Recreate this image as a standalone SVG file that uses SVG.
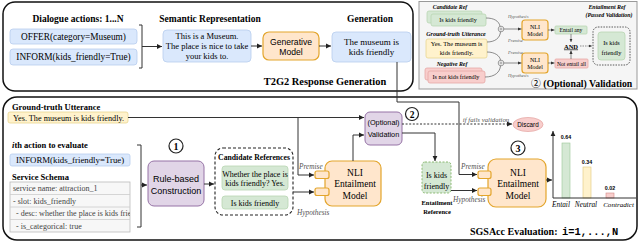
<svg xmlns="http://www.w3.org/2000/svg" width="640" height="243" viewBox="0 0 640 243">
<defs>
<marker id="ah" markerWidth="6" markerHeight="6" refX="5" refY="3" orient="auto" markerUnits="userSpaceOnUse"><path d="M0,0.6 L5,3 L0,5.4 Z" fill="#222"/></marker>
<marker id="ahs" markerWidth="4" markerHeight="4" refX="3.5" refY="2" orient="auto" markerUnits="userSpaceOnUse"><path d="M0,0.4 L3.5,2 L0,3.6 Z" fill="#333"/></marker>
<clipPath id="tbl"><rect x="10" y="182" width="120" height="50"/></clipPath>
</defs>
<style>
.serif{font-family:"Liberation Serif","Times New Roman",serif}
.sans{font-family:"Liberation Sans",Arial,sans-serif}
.mono{font-family:"Liberation Mono","Courier New",monospace}
.b{font-weight:bold}
.it{font-style:italic}
.mid{text-anchor:middle}
.blue{fill:#dae8fc;stroke:#b7cdee;stroke-width:0.8}
.orange{fill:#ffe6cc;stroke:#e3a52c;stroke-width:1.2}
.green{fill:#d5e8d4;stroke:#b9d6b3;stroke-width:0.8}
.yellow{fill:#fff2cc;stroke:#e8d58f;stroke-width:0.8}
.red{fill:#f8cecc;stroke:#e6a8a6;stroke-width:0.8}
.purple{fill:#e1d5e7;stroke:#9673a6;stroke-width:1}
.conn{fill:none;stroke:#333;stroke-width:1}
.thin{fill:none;stroke:#444;stroke-width:0.6}
.panel{fill:none;stroke:#111;stroke-width:1.5}
.lbl{fill:#555}
.num{fill:#fff;stroke:#222;stroke-width:1.2}
</style>

<!-- Panels -->
<g id="t2g2-panel">
<rect class="panel" x="3" y="2" width="410" height="89" rx="12"/>
<text class="serif b mid" x="325" y="85" font-size="10.4">T2G2 Response Generation</text>
</g>
<g id="validation-panel">
<rect x="419" y="1.5" width="218" height="87.5" fill="#f5f5f5" stroke="#999" stroke-width="1"/>
<text class="serif b" x="531" y="87" font-size="9.8"><tspan font-family="'Noto Sans CJK SC',sans-serif" font-weight="normal">②</tspan> (Optional) Validation</text>
</g>
<g id="sgsacc-panel">
<rect class="panel" x="3" y="97" width="634" height="143" rx="14"/>
<text class="serif b" x="470" y="235" font-size="10">SGSAcc Evaluation: </text>
<text class="mono b" x="562" y="235" font-size="10.4">i=1,...,N</text>
</g>

<!-- T2G2 nodes -->
<g id="dialogue-actions">
<text class="serif b mid" x="78" y="22.3" font-size="9.5">Dialogue actions: 1...N</text>
<rect class="blue" x="10" y="29" width="127" height="15" rx="3"/>
<text class="serif mid" x="73.5" y="39.8" font-size="9.3">OFFER(category=Museum)</text>
<rect class="blue" x="10" y="49" width="127" height="16" rx="3"/>
<text class="serif mid" x="73.5" y="60.3" font-size="9.3">INFORM(kids_friendly=True)</text>
</g>
<g id="semantic-representation">
<text class="serif b mid" x="210" y="22.3" font-size="9.5">Semantic Representation</text>
<rect class="blue" x="163" y="30" width="88" height="32" rx="4"/>
<text class="serif mid" x="207" y="38.8" font-size="8.5">This is a Museum.</text>
<text class="serif mid" x="207" y="48.8" font-size="8.5">The place is nice to take</text>
<text class="serif mid" x="207" y="58.8" font-size="8.5">your kids to.</text>
</g>
<g id="generative-model">
<rect class="orange" x="263" y="32" width="56" height="28" rx="6"/>
<text class="sans mid" x="291" y="44.7" font-size="8.6">Generative</text>
<text class="sans mid" x="291" y="54.7" font-size="8.6">Model</text>
</g>
<g id="generation">
<text class="serif b mid" x="370" y="22.3" font-size="9.5">Generation</text>
<rect class="blue" x="332" y="32" width="79" height="30" rx="4"/>
<text class="serif mid" x="371.5" y="44.8" font-size="9">The museum is</text>
<text class="serif mid" x="371.5" y="54.8" font-size="9">kids friendly</text>
</g>

<!-- Validation panel nodes -->
<g id="val-candidate-ref">
<text class="serif b it mid" x="450" y="9" font-size="5.8">Candidate Ref</text>
<rect class="green" x="427" y="11" width="55" height="12" rx="2"/>
<rect class="green" x="431" y="14" width="55" height="12" rx="2"/>
<text class="serif mid" x="458" y="22.2" font-size="6.2">Is kids friendly</text>
</g>
<g id="val-ground-truth">
<text class="serif b it mid" x="456" y="36" font-size="6">Ground-truth Utterance</text>
<rect class="yellow" x="426" y="39" width="61" height="19" rx="2"/>
<text class="serif mid" x="456.5" y="46.3" font-size="6.4">Yes. The museum is</text>
<text class="serif mid" x="456.5" y="55" font-size="6.4">kids friendly.</text>
</g>
<g id="val-negative-ref">
<text class="serif b it mid" x="452" y="66" font-size="5.8">Negative Ref</text>
<rect class="red" x="425" y="68" width="57" height="12" rx="2"/>
<rect class="red" x="428" y="71" width="57" height="12" rx="2"/>
<text class="serif mid" x="456" y="79.3" font-size="6.2">Is not kids friendly</text>
</g>
<g id="val-nli-1">
<rect class="orange" x="522" y="20" width="26" height="20" rx="3" stroke-width="0.9"/>
<text class="serif mid" x="535" y="29" font-size="6">NLI</text>
<text class="serif mid" x="535" y="36" font-size="6">Model</text>
</g>
<g id="val-nli-2">
<rect class="orange" x="522" y="53" width="26" height="20" rx="3" stroke-width="0.9"/>
<text class="serif mid" x="535" y="62" font-size="6">NLI</text>
<text class="serif mid" x="535" y="69" font-size="6">Model</text>
</g>
<g id="val-entail-any">
<rect class="green" x="555" y="26" width="32" height="8" rx="1"/>
<text class="serif mid" x="571" y="32" font-size="5.6">Entail any</text>
</g>
<g id="val-not-entail-all">
<rect class="red" x="555" y="59" width="33" height="9" rx="1"/>
<text class="serif mid" x="571.5" y="65.5" font-size="5.6">Not entail all</text>
</g>
<g id="val-and">
<text class="serif b mid" x="571" y="48.5" font-size="6.5" text-decoration="underline">AND</text>
</g>
<g id="val-entailment-ref">
<text class="serif b it mid" x="607" y="8.5" font-size="5.9">Entailment Ref</text>
<text class="serif b it mid" x="609" y="17" font-size="5.9">(Passed Validation)</text>
<rect x="593" y="27" width="37" height="38" rx="5" fill="none" stroke="#333" stroke-width="0.8" stroke-dasharray="1.5 1.2"/>
<rect class="green" x="598" y="32" width="27" height="28" rx="3"/>
<text class="serif mid" x="611.5" y="45" font-size="6.3">Is kids</text>
<text class="serif mid" x="611.5" y="54.5" font-size="6.3">friendly</text>
</g>
<g id="val-combine">
<circle cx="501" cy="29" r="2.8" fill="#fff" stroke="#555" stroke-width="0.6"/>
<path d="M499.3,29 H502.7 M501,27.3 V30.7" stroke="#555" stroke-width="0.5"/>
<circle cx="501" cy="63" r="2.8" fill="#fff" stroke="#555" stroke-width="0.6"/>
<path d="M499.3,63 H502.7 M501,61.3 V64.7" stroke="#555" stroke-width="0.5"/>
</g>

<!-- Bottom panel nodes -->
<g id="ground-truth-utterance">
<text class="serif b" x="12" y="109.6" font-size="8.5">Ground-truth Utterance</text>
<rect class="yellow" x="8" y="112" width="120" height="11" rx="2"/>
<text class="serif" x="13" y="120.5" font-size="8.2">Yes. The museum is kids friendly.</text>
</g>
<g id="ith-action">
<text class="serif b" x="12" y="148" font-size="8.5"><tspan class="it">i</tspan>th action to evaluate</text>
<rect class="blue" x="10" y="154" width="120" height="12" rx="2"/>
<text class="serif mid" x="70" y="163.2" font-size="8.8">INFORM(kids_friendly=True)</text>
</g>
<g id="service-schema">
<text class="serif b" x="12" y="180" font-size="8.5">Service Schema</text>
<rect x="10" y="182" width="120" height="50" fill="#f7f7f7" stroke="#bbb" stroke-width="0.8"/>
<path d="M10,194.5 H130 M10,207 H130 M10,219.5 H130" stroke="#ccc" stroke-width="0.8"/>
<g clip-path="url(#tbl)" class="serif" font-size="8" fill="#444">
<text x="13" y="191.3">service name: attraction_1</text>
<text x="13" y="203.8">- slot: kids_friendly</text>
<text x="16" y="216.3">- desc: whether the place is kids frie</text>
<text x="16" y="228.8">- is_categorical: true</text>
</g>
</g>
<g id="rule-based-construction">
<rect class="purple" x="148" y="161" width="56" height="45" rx="6"/>
<text class="sans mid" x="176" y="181.5" font-size="9">Rule-based</text>
<text class="sans mid" x="176" y="193.5" font-size="9">Construction</text>
<circle class="num" cx="176" cy="146" r="7"/>
<text class="serif b mid" x="176" y="149.6" font-size="10">1</text>
</g>
<g id="candidate-references">
<rect x="215" y="148" width="78" height="67" rx="8" fill="none" stroke="#222" stroke-width="1.1" stroke-dasharray="3 2"/>
<text class="serif b mid" x="254" y="159.6" font-size="7.7">Candidate References</text>
<rect class="green" x="222" y="166" width="66" height="24" rx="3"/>
<text class="serif mid" x="255" y="176.6" font-size="8">Whether the place is</text>
<text class="serif mid" x="255" y="186.4" font-size="8">kids friendly? Yes.</text>
<rect class="green" x="222" y="196" width="66" height="13" rx="3"/>
<text class="serif mid" x="255" y="205.5" font-size="8">Is kids friendly</text>
</g>
<g id="nli-model-1">
<rect class="orange" x="325" y="161" width="56" height="45" rx="7"/>
<rect class="orange" x="315" y="171" width="14" height="7.5" rx="2"/>
<rect class="orange" x="315" y="188" width="14" height="7.5" rx="2"/>
<text class="serif mid" x="355" y="175.6" font-size="9.5">NLI</text>
<text class="serif mid" x="355" y="187.2" font-size="9.5">Entailment</text>
<text class="serif mid" x="355" y="198.6" font-size="9.5">Model</text>
</g>
<g id="optional-validation">
<rect class="purple" x="365" y="112" width="37" height="33" rx="5"/>
<text class="sans mid" x="383.5" y="125.2" font-size="7.3">(Optional)</text>
<text class="sans mid" x="383.5" y="136.7" font-size="7.3">Validation</text>
<circle class="num" cx="412" cy="114" r="6.5"/>
<text class="serif b mid" x="412" y="117.5" font-size="9.5">2</text>
</g>
<g id="discard">
<ellipse class="red" cx="528" cy="124.5" rx="15" ry="7" stroke="#d99b98"/>
<text class="sans mid" x="528" y="126.8" font-size="6.3">Discard</text>
</g>
<g id="entailment-reference">
<rect x="422" y="162" width="29" height="31" rx="3" fill="#d5e8d4" stroke="#82b366" stroke-width="0.9" stroke-dasharray="2 1.5"/>
<text class="serif mid" x="436.5" y="178" font-size="8">Is kids</text>
<text class="serif mid" x="436.5" y="189" font-size="8">friendly</text>
<text class="serif b mid" x="437" y="205.3" font-size="6.5">Entailment</text>
<text class="serif b mid" x="437" y="214" font-size="6.5">Reference</text>
</g>
<g id="nli-model-2">
<rect class="orange" x="488" y="159" width="58" height="48" rx="8"/>
<rect class="orange" x="478" y="171" width="13" height="7.5" rx="2"/>
<rect class="orange" x="478" y="188" width="13" height="7.5" rx="2"/>
<text class="serif mid" x="518" y="175.6" font-size="9.5">NLI</text>
<text class="serif mid" x="518" y="187.2" font-size="9.5">Entailment</text>
<text class="serif mid" x="518" y="198.6" font-size="9.5">Model</text>
<circle class="num" cx="518" cy="148" r="7"/>
<text class="serif b mid" x="518" y="151.6" font-size="10">3</text>
</g>
<g id="score-chart">
<rect x="562" y="143" width="8" height="55" fill="#d5e8d4" stroke="#9cc596" stroke-width="0.6"/>
<rect x="583" y="167" width="8" height="31" fill="#fff2cc" stroke="#e0c77a" stroke-width="0.6"/>
<rect x="606" y="193" width="8" height="5" fill="#f8cecc" stroke="#d38b88" stroke-width="0.6"/>
<text class="sans b mid" x="566" y="139" font-size="5.3">0.64</text>
<text class="sans b mid" x="587" y="163.8" font-size="5.3">0.34</text>
<text class="sans b mid" x="610" y="190.3" font-size="5.3">0.02</text>
<text class="serif it mid" x="561" y="207" font-size="7.3">Entail</text>
<text class="serif it mid" x="586" y="207" font-size="7.3">Neutral</text>
<text class="serif it mid" x="618.5" y="207" font-size="7.1">Contradict</text>
</g>

<!-- Connectors -->
<g id="connectors">
<path class="conn" d="M139,25 H142 V68 H139"/>
<path class="conn" d="M142,46.5 H162" marker-end="url(#ah)"/>
<path class="conn" d="M251,46 H262" marker-end="url(#ah)"/>
<path class="conn" d="M319,46 H331" marker-end="url(#ah)"/>
<path class="conn" d="M397,62 V102 H459 V174.5 H477" marker-end="url(#ah)"/>
<path class="conn" d="M128,117.5 H364" marker-end="url(#ah)"/>
<path class="conn" d="M298,117.5 V175 H314" marker-end="url(#ah)"/>
<path class="conn" d="M137,145 H141 V227 H137"/>
<path class="conn" d="M141,185 H147" marker-end="url(#ah)"/>
<path class="conn" d="M204,184 H214" marker-end="url(#ah)"/>
<path class="conn" d="M293,192 H314" marker-end="url(#ah)"/>
<path class="conn" d="M353,161 V135 H364" marker-end="url(#ah)"/>
<path class="conn" d="M402,124 H512" stroke-dasharray="2 1.6" marker-end="url(#ah)"/>
<path class="conn" d="M402,133 H435 V161" marker-end="url(#ah)"/>
<path class="conn" d="M451,190.5 H477" marker-end="url(#ah)"/>
<path class="conn" d="M546,180 H552" marker-end="url(#ah)"/>
<path class="conn" d="M553,198 V131" marker-end="url(#ah)"/>
<path class="conn" d="M553,198 H636"/>
<text class="serif it lbl" x="299" y="169" font-size="7.3">Premise</text>
<text class="serif it lbl" x="297" y="214.5" font-size="7.3">Hypothesis</text>
<text class="serif it lbl" x="461" y="169" font-size="7.3">Premise</text>
<text class="serif it lbl" x="453" y="201.5" font-size="7.3">Hypothesis</text>
<text class="serif it lbl mid" x="486" y="121.5" font-size="6.8">if fails validation</text>
<!-- validation panel connectors -->
<path class="thin" d="M486,18 C494,18 499,21 500,26.3"/>
<path class="thin" d="M487,42 C495,42 500,38 500.5,31.8"/>
<path class="thin" d="M487,52 C495,52 500,56 500.5,60.2"/>
<path class="thin" d="M485,77 C495,77 500,72 500.5,65.8"/>
<path class="thin" d="M503.8,29 H521.5" marker-end="url(#ahs)"/>
<path class="thin" d="M503.8,63 H521.5" marker-end="url(#ahs)"/>
<path class="thin" d="M548,30 H554.5" marker-end="url(#ahs)"/>
<path class="thin" d="M548,63 H554.5" marker-end="url(#ahs)"/>
<path class="thin" d="M571,34 V42" marker-end="url(#ahs)"/>
<path class="thin" d="M571,59 V50.5" marker-end="url(#ahs)"/>
<path class="thin" d="M580,46 H592" stroke-dasharray="1.5 1" marker-end="url(#ahs)"/>
<text class="serif it lbl" x="508" y="18" font-size="4.6">Hypothesis</text>
<text class="serif it lbl" x="508" y="41.5" font-size="4.6">Premise</text>
<text class="serif it lbl" x="508" y="54" font-size="4.6">Premise</text>
<text class="serif it lbl" x="508" y="77" font-size="4.6">Hypothesis</text>
</g>
</svg>
